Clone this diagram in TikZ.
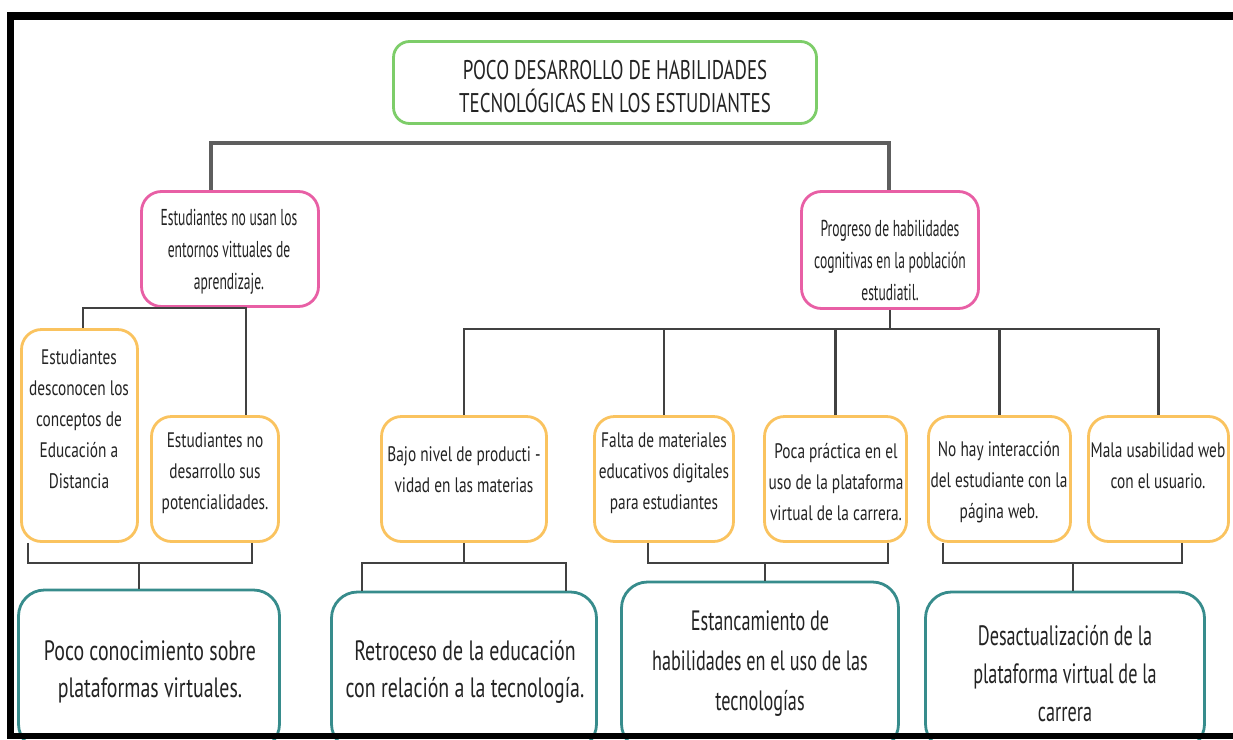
\documentclass[tikz,border=0pt]{standalone}
\usepackage{fontspec}
\setmainfont{PT Sans}
\newfontfamily\ttlfont{PT Sans}[FakeStretch=0.70]
\newfontfamily\pkfont{PT Sans}[FakeStretch=0.59]
\newfontfamily\orfont{PT Sans}[FakeStretch=0.73]
\newfontfamily\tlfont{PT Sans}[FakeStretch=0.71]
\newfontfamily\tlnfont{PT Sans}[FakeStretch=0.65]
\definecolor{cgreen}{RGB}{125,205,105}
\definecolor{cpink}{RGB}{232,95,165}
\definecolor{corange}{RGB}{250,195,95}
\definecolor{cteal}{RGB}{55,140,140}
\definecolor{cline}{RGB}{65,65,65}
\definecolor{ctext}{RGB}{35,35,35}
\tikzset{
  box/.style={draw, line width=2.8pt, fill=white, inner sep=0pt},
  gbox/.style={box, draw=cgreen, rounded corners=16pt},
  pbox/.style={box, draw=cpink, rounded corners=20pt},
  obox/.style={box, draw=corange, rounded corners=20pt},
  kbox/.style={box, draw=cteal, rounded corners=26pt},
  txt/.style={align=center, text=ctext, inner sep=0pt},
  ttltxt/.style={txt, font=\ttlfont\fontsize{27}{33}\selectfont},
  pktxt/.style={txt, font=\pkfont\fontsize{23}{32}\selectfont},
  ortxt/.style={txt, font=\orfont\fontsize{21}{31}\selectfont},
  tltxt/.style={txt, font=\tlfont\fontsize{28}{37}\selectfont},
  conn/.style={draw=cline, line width=2.5pt},
  frame/.style={draw=black, line width=7pt}
}
\begin{document}
\begin{tikzpicture}[x=1pt, y=-1pt]
\useasboundingbox (0,0) rectangle (1233,739);
\clip (0,0) rectangle (1233,739);
\fill[white] (0,0) rectangle (1233,739);

% coordinates of junctions
\coordinate (t1) at (211,143);
\coordinate (t2) at (889,143);
\coordinate (l1) at (83,308);
\coordinate (l2) at (246,308);
\coordinate (r0) at (890,329);
\coordinate (b1) at (28,563);
\coordinate (b2) at (252,563);
\coordinate (b3) at (139,563);
\coordinate (b4) at (464,563);
\coordinate (b5) at (362,563);
\coordinate (b6) at (566,563);
\coordinate (b7) at (648,563);
\coordinate (b8) at (888,563);
\coordinate (b9) at (765,563);
\coordinate (b10) at (943,563);
\coordinate (b11) at (1182,563);
\coordinate (b12) at (1073,563);

% boxes
\node[gbox, minimum width=423pt, minimum height=82pt] (title) at (605,82.5) {};
\node[pbox, minimum width=177pt, minimum height=115pt] (p1) at (230,249) {};
\node[pbox, minimum width=177pt, minimum height=117pt] (p2) at (890,250) {};
\node[obox, minimum width=116pt, minimum height=212pt] (o1) at (79.5,435.5) {};
\node[obox, minimum width=127pt, minimum height=125pt] (o2) at (215,479) {};
\node[obox, minimum width=165pt, minimum height=125pt] (o3) at (464,479) {};
\node[obox, minimum width=139pt, minimum height=125pt] (o4) at (664,479) {};
\node[obox, minimum width=142pt, minimum height=125pt] (o5) at (835.5,479) {};
\node[obox, minimum width=142pt, minimum height=125pt] (o6) at (999.5,479) {};
\node[obox, minimum width=140pt, minimum height=125pt] (o7) at (1158.5,479) {};
\node[kbox, minimum width=261pt, minimum height=160pt] (k1) at (149,670) {};
\node[kbox, minimum width=265pt, minimum height=158pt] (k2) at (464,671) {};
\node[kbox, minimum width=277pt, minimum height=168pt] (k3) at (760,666) {};
\node[kbox, minimum width=279pt, minimum height=158pt] (k4) at (1065,671) {};

% texts
\node[ttltxt] (titlet) at (615,87) {POCO DESARROLLO DE HABILIDADES\\TECNOLÓGICAS EN LOS ESTUDIANTES};
\node[pktxt] (p1t) at (229,252) {Estudiantes no usan los\\entornos vittuales de\\aprendizaje.};
\node[pktxt] (p2t) at (890,260) {Progreso de habilidades\\cognitivas en la población\\estudiatil.};
\node[ortxt] (o1t) at (79,419) {Estudiantes\\desconocen los\\conceptos de\\Educación a\\Distancia};
\node[ortxt] (o2t) at (215,473) {Estudiantes no\\desarrollo sus\\potencialidades.};
\node[ortxt] (o3t) at (464,470) {Bajo nivel de producti -\\vidad en las materias};
\node[ortxt] (o4t) at (664,473) {Falta de materiales\\educativos digitales\\para estudiantes};
\node[ortxt] (o5t) at (836,482) {Poca práctica en el\\uso de la plataforma\\virtual de la carrera.};
\node[ortxt] (o6t) at (999,482) {No hay interacción\\del estudiante con la\\página web.};
\node[ortxt] (o7t) at (1158,466) {Mala usabilidad web\\con el usuario.};
\node[tltxt] (k1t) at (150,672) {Poco conocimiento sobre\\plataformas virtuales.};
\node[tltxt] (k2t) at (465,672) {Retroceso de la educación\\con relación a la tecnología.};
\node[tltxt, font=\tlnfont\fontsize{28}{40}\selectfont] (k3t) at (760,664) {Estancamiento de\\habilidades en el uso de las\\tecnologías};
\node[tltxt, font=\tlnfont\fontsize{28}{38}\selectfont] (k4t) at (1065,674) {Desactualización de la\\plataforma virtual de la\\carrera};

% connectors
\draw[conn, line width=3.5pt, draw=cline!85] (t1 |- p1.north) -- (t1) -- (t2) -- (t2 |- p2.north);
\draw[conn] (l1 |- o1.north) -- (l1) -- (l2) -- (l2 |- o2.north);
\draw[conn] (p2.south) -- (r0);
\draw[conn] (o3.north) |- (r0) -| (o7.north);
\draw[conn] (o4.north) -- (o4.north |- r0);
\draw[conn] (o5.north) -- (o5.north |- r0);
\draw[conn] (o6.north) -- (o6.north |- r0);
\draw[conn] (b1 |- o1.south) -- (b1) -- (b2) -- (b2 |- o2.south);
\draw[conn] (b3) -- (b3 |- k1.north);
\draw[conn] (o3.south) -- (b4);
\draw[conn] (b5 |- k2.north) -- (b5) -- (b6) -- (b6 |- k2.north);
\draw[conn] (b7 |- o4.south) -- (b7) -- (b8) -- (b8 |- o5.south);
\draw[conn] (b9) -- (b9 |- k3.north);
\draw[conn] (b10 |- o6.south) -- (b10) -- (b11) -- (b11 |- o7.south);
\draw[conn] (b12) -- (b12 |- k4.north);

% frame
\draw[frame, line width=8pt] (7,16) -- (1233,16);
\draw[frame] (10.5,12) -- (10.5,739);
\draw[frame, line width=6pt] (7,736) -- (1233,736);
\end{tikzpicture}
\end{document}
